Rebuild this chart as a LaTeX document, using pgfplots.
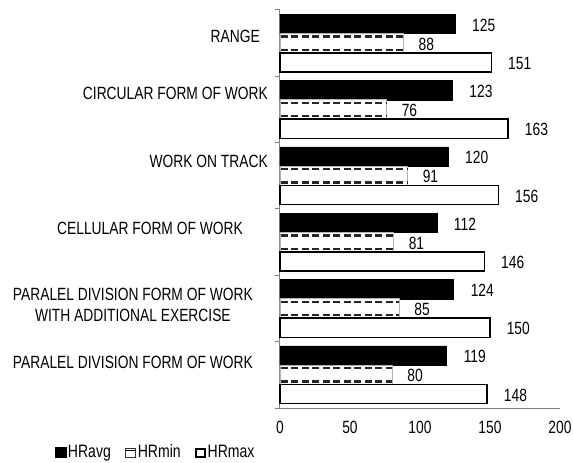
\documentclass[border=0pt]{standalone}
\usepackage{pgfplots}
\pgfplotsset{compat=1.18}
\usepackage{fontspec}
\setmainfont{Liberation Sans}[FakeStretch=0.78]
\newcommand{\legfont}{\fontsize{18}{20}\selectfont}
\begin{document}
\fontsize{17.7}{21}\selectfont
\begin{tikzpicture}
\useasboundingbox (-280pt,-55pt) rectangle (293pt,408pt);
\begin{axis}[
  at={(0,0)}, anchor=south west,
  scale only axis, width=280pt, height=398pt,
  xbar, bar width=0.29,
  xmin=0, xmax=200, ymin=-0.5, ymax=5.5,
  axis x line*=bottom, axis y line*=left,
  axis line style={gray, line width=1pt},
  xtick={0,50,100,150,200},
  ytick={0.18,1.06,2.2,3.21,4.24,5.105},
  yticklabels={
    PARALEL DIVISION FORM OF WORK\rule{15pt}{0pt},
    {PARALEL DIVISION FORM OF WORK\rule{15pt}{0pt}\\WITH ADDITIONAL EXERCISE\rule{15pt}{0pt}},
    CELLULAR FORM OF WORK\rule{25pt}{0pt},
    WORK ON TRACK,
    CIRCULAR FORM OF WORK,
    RANGE\rule{8pt}{0pt}},
  minor ytick={-0.5,0.5,1.5,2.5,3.5,4.5,5.5},
  major tick length=0pt, minor tick length=5pt, tick align=outside,
  minor tick style={gray, line width=1pt},
  yticklabel style={align=center, inner sep=0pt, xshift=-12pt},
  xticklabel style={inner sep=0pt, yshift=-13pt},
  clip=false,
  /pgf/number format/assume math mode=true,
  legend style={draw=none, fill=none, at={(axis description cs:-0.804,-0.112)}, anchor=west,
    inner sep=0pt, nodes={inner sep=1.5pt},
    /tikz/every even column/.append style={column sep=13pt}},
  legend columns=3, legend cell align=left,
]
\addplot[bar shift=0.29, fill=black, draw=black,
  nodes near coords, point meta=x,
  every node near coord/.append style={anchor=west, inner sep=0pt, xshift=17pt, yshift=-1pt},
  legend image code/.code={\fill[black] (0pt,-5pt) rectangle (11pt,5pt);}]
  coordinates {(119,0) (124,1) (112,2) (120,3) (123,4) (125,5)};
\addlegendentry{\legfont HRavg}
\addplot[bar shift=0, fill=white, draw=gray!60, line width=0.8pt,
  nodes near coords, point meta=x,
  every node near coord/.append style={anchor=west, inner sep=0pt, xshift=15pt, yshift=-1pt},
  legend image code/.code={\draw[black!80, line width=0.9pt, fill=white] (0.5pt,-4.5pt) rectangle (10.5pt,4.5pt); \draw[black, line width=0.9pt] (0.5pt,1.8pt) -- (10.5pt,1.8pt);}]
  coordinates {(80,0) (85,1) (81,2) (91,3) (76,4) (88,5)};
\addlegendentry{\legfont HRmin}
\addplot[forget plot, sharp plot, no marks, draw=black!85, line width=2.2pt,
  dash pattern=on 7pt off 3.5pt, unbounded coords=jump]
  coordinates {(0.6,0.1) (80,0.1) (nan,nan) (0.6,-0.1) (80,-0.1) (nan,nan)
               (0.6,1.1) (85,1.1) (nan,nan) (0.6,0.9) (85,0.9) (nan,nan)
               (0.6,2.1) (81,2.1) (nan,nan) (0.6,1.9) (81,1.9) (nan,nan)
               (0.6,3.1) (91,3.1) (nan,nan) (0.6,2.9) (91,2.9) (nan,nan)
               (0.6,4.1) (76,4.1) (nan,nan) (0.6,3.9) (76,3.9) (nan,nan)
               (0.6,5.1) (88,5.1) (nan,nan) (0.6,4.9) (88,4.9)};
\addplot[bar shift=-0.29, fill=white, draw=black, line width=1.6pt,
  nodes near coords, point meta=x,
  every node near coord/.append style={anchor=west, inner sep=0pt, xshift=16pt, yshift=-1pt},
  legend image code/.code={\draw[black, line width=2pt, fill=white] (1pt,-4pt) rectangle (10pt,4pt);}]
  coordinates {(148,0) (150,1) (146,2) (156,3) (163,4) (151,5)};
\addlegendentry{\legfont HRmax}
\end{axis}
\end{tikzpicture}
\end{document}
